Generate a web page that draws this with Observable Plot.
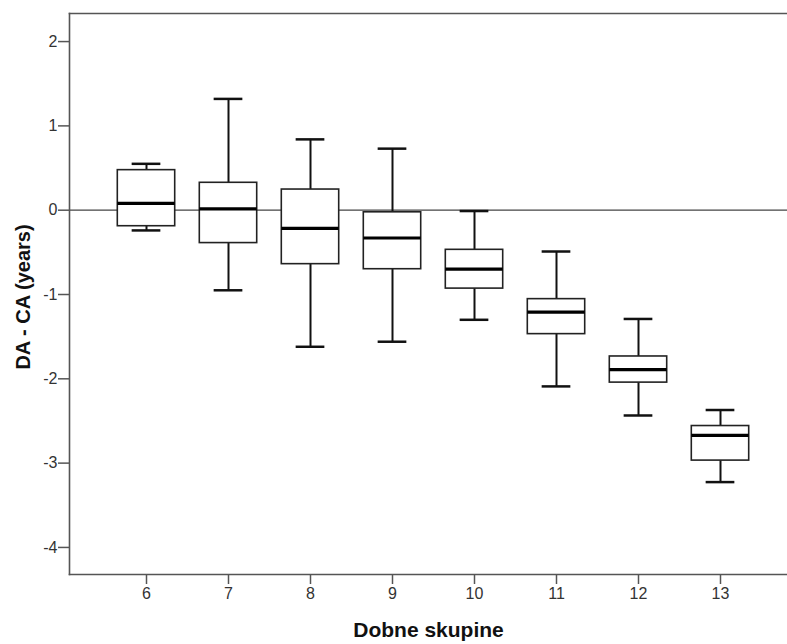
<!DOCTYPE html>
<html>
<head>
<meta charset="utf-8">
<script src="https://cdn.jsdelivr.net/npm/d3@7"></script>
<script src="https://cdn.jsdelivr.net/npm/@observablehq/plot@0.6"></script>
<style>
  html, body { margin: 0; padding: 0; background: #fff; }
</style>
</head>
<body>
<div id="chart"></div>
<script>
const groups      = [6, 7, 8, 9, 10, 11, 12, 13];
const whiskerHigh = [0.55, 1.32, 0.84, 0.73, -0.01, -0.49, -1.29, -2.37];
const q3          = [0.475, 0.325, 0.245, -0.025, -0.47, -1.055, -1.735, -2.56];
const medians     = [0.08, 0.015, -0.215, -0.33, -0.70, -1.21, -1.89, -2.67];
const q1          = [-0.19, -0.39, -0.64, -0.70, -0.93, -1.47, -2.045, -2.97];
const whiskerLow  = [-0.24, -0.95, -1.62, -1.56, -1.30, -2.09, -2.435, -3.225];
const yTicks = [-4, -3, -2, -1, 0, 1, 2];
const xLabel = "Dobne skupine";
const yLabel = "DA - CA (years)";

const data = groups.map((g, i) => ({
  g, hi: whiskerHigh[i], q3: q3[i], med: medians[i], q1: q1[i], lo: whiskerLow[i]
}));

const boxHalf = 0.35;
const capHalf = 0.175;
const ink = "#111";

const chart = Plot.plot({
  width: 787,
  height: 644,
  marginLeft: 69,
  marginRight: 0,
  marginTop: 13,
  marginBottom: 70,
  style: { fontFamily: "'Liberation Sans', Arial, sans-serif", fontSize: "16px", color: "#333", background: "#fff" },
  x: { type: "linear", domain: [6 - 77/82, 13 + 67/82] },
  y: { domain: [-4.321, 2.333] },
  marks: [
    Plot.ruleY([0], { stroke: "#444", strokeWidth: 1.2 }),
    // whiskers
    Plot.ruleX(data, { x: "g", y1: "q3", y2: "hi", stroke: ink, strokeWidth: 2 }),
    Plot.ruleX(data, { x: "g", y1: "lo", y2: "q1", stroke: ink, strokeWidth: 2 }),
    Plot.ruleY(data, { y: "hi", x1: d => d.g - capHalf, x2: d => d.g + capHalf, stroke: ink, strokeWidth: 2.5 }),
    Plot.ruleY(data, { y: "lo", x1: d => d.g - capHalf, x2: d => d.g + capHalf, stroke: ink, strokeWidth: 2.5 }),
    // boxes
    Plot.rect(data, { x1: d => d.g - boxHalf, x2: d => d.g + boxHalf, y1: "q1", y2: "q3", fill: "#fff", stroke: "#222", strokeWidth: 1.6 }),
    Plot.ruleY(data, { y: "med", x1: d => d.g - boxHalf, x2: d => d.g + boxHalf, stroke: "#000", strokeWidth: 3.2 }),
    // frame (left, top, bottom)
    Plot.frame({ anchor: "left", stroke: "#555", strokeWidth: 1.6 }),
    Plot.frame({ anchor: "top", stroke: "#555", strokeWidth: 1.6 }),
    Plot.frame({ anchor: "bottom", stroke: "#555", strokeWidth: 1.6 }),
    Plot.axisY({ ticks: yTicks, tickFormat: d => String(d), tickSize: 11, tickPadding: 1, label: null, stroke: "#555", strokeWidth: 1.5, fill: "#333", fontSize: 16 }),
    Plot.axisX({ ticks: groups, tickFormat: d => String(d), tickSize: 10, tickPadding: 3, label: null, stroke: "#555", strokeWidth: 1.5, fill: "#333", fontSize: 16 }),
    Plot.text([yLabel], { frameAnchor: "left", textAnchor: "middle", lineAnchor: "middle", rotate: -90, dx: -46, dy: 3, fontSize: 20, fontWeight: "bold", fill: "#111" }),
    Plot.text([xLabel], { frameAnchor: "bottom", textAnchor: "middle", lineAnchor: "middle", dy: 56, dx: 0, fontSize: 21, fontWeight: "bold", fill: "#111" })
  ]
});
document.getElementById("chart").appendChild(chart);
</script>
</body>
</html>
